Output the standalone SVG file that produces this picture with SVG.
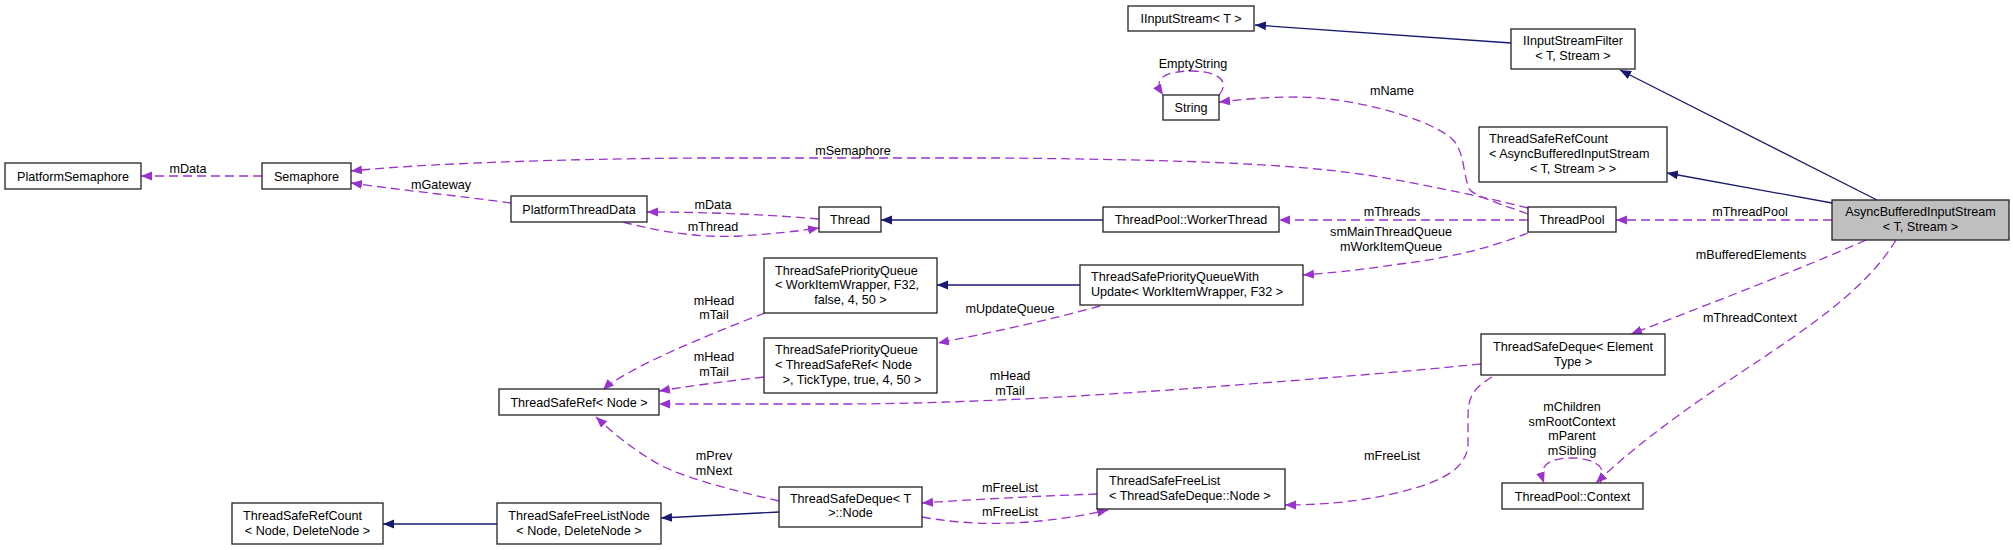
<svg xmlns="http://www.w3.org/2000/svg" width="2013" height="550" viewBox="0 0 2013 550">
<defs>
<style>
.n rect{fill:#fff;stroke:#222;stroke-width:1.3}
.n.main rect{fill:#bfbfbf}
text{font-family:"Liberation Sans",Arial,sans-serif;font-size:12.6px;fill:#000}
.c{text-anchor:middle}
.u{fill:none;stroke:#9a32cd;stroke-width:1.3;stroke-dasharray:9,5}
.i{fill:none;stroke:#191970;stroke-width:1.3}
</style>
<marker id="ap" markerUnits="userSpaceOnUse" markerWidth="12" markerHeight="10" refX="11" refY="4.5" orient="auto"><path d="M0,0 L11,4.5 L0,9 z" fill="#9a32cd"/></marker>
<marker id="ai" markerUnits="userSpaceOnUse" markerWidth="12" markerHeight="10" refX="11" refY="4.5" orient="auto"><path d="M0,0 L11,4.5 L0,9 z" fill="#191970"/></marker>
</defs>
<rect width="2013" height="550" fill="#fff"/>
<g id="connectors">
<path class="i" marker-end="url(#ai)" d="M1511,43 L1255,25"/>
<path class="i" marker-end="url(#ai)" d="M1877,200 L1620,70"/>
<path class="i" marker-end="url(#ai)" d="M1832,203 L1667,173"/>
<path class="i" marker-end="url(#ai)" d="M1103,220 L881,220"/>
<path class="i" marker-end="url(#ai)" d="M1080,285 L937,285"/>
<path class="i" marker-end="url(#ai)" d="M779,512 L661,518"/>
<path class="i" marker-end="url(#ai)" d="M497,524 L383,524"/>
<path class="u" marker-end="url(#ap)" d="M262,176 L141,176"/>
<path class="u" marker-end="url(#ap)" d="M511,203 C460,196 400,190 351,183"/>
<path class="u" marker-end="url(#ap)" d="M819,219 C760,214 700,212 647,212"/>
<path class="u" marker-end="url(#ap)" d="M623,222 C660,232 700,238 740,236 C770,234 800,231 819,228"/>
<path class="u" marker-end="url(#ap)" d="M1528,208 C1480,196 1420,184 1380,177 C1300,164 1200,160 1000,158 L700,158 C550,159 420,164 351,171"/>
<path class="u" marker-end="url(#ap)" d="M1528,214 C1500,204 1476,196 1470,190 C1462,175 1466,150 1450,137 C1420,115 1350,98 1300,97 C1260,97 1240,100 1219,102"/>
<path class="u" marker-end="url(#ap)" d="M1219,95 C1228,85 1225,72 1193,71 C1165,71 1152,78 1163,95"/>
<path class="u" marker-end="url(#ap)" d="M1528,220 L1279,220"/>
<path class="u" marker-end="url(#ap)" d="M1528,233 C1490,248 1450,258 1400,264 C1360,270 1330,273 1303,275"/>
<path class="u" marker-end="url(#ap)" d="M1832,220 L1616,220"/>
<path class="u" marker-end="url(#ap)" d="M1866,240 C1840,252 1760,285 1631,334"/>
<path class="u" marker-end="url(#ap)" d="M1896,240 C1860,300 1780,345 1700,400 C1650,435 1620,460 1596,483"/>
<path class="u" marker-end="url(#ap)" d="M1600,483 C1608,472 1600,458 1572,458 C1548,458 1538,466 1544,483"/>
<path class="u" marker-end="url(#ap)" d="M1481,364 C1440,368 1400,372 1300,380 C1150,392 1000,403 850,404 L659,404"/>
<path class="u" marker-end="url(#ap)" d="M1492,377 C1470,390 1468,400 1468,420 L1468,445 C1466,470 1440,482 1400,492 C1360,502 1320,505 1285,505"/>
<path class="u" marker-end="url(#ap)" d="M765,313 C720,330 660,355 630,372 C615,380 607,386 603,390"/>
<path class="u" marker-end="url(#ap)" d="M764,377 C720,382 690,386 659,391"/>
<path class="u" marker-end="url(#ap)" d="M1100,306 C1050,320 980,335 938,343"/>
<path class="u" marker-end="url(#ap)" d="M779,501 C740,492 690,480 660,465 C630,448 610,430 596,417"/>
<path class="u" marker-end="url(#ap)" d="M1097,494 C1040,496 980,499 922,503"/>
<path class="u" marker-end="url(#ap)" d="M922,517 C960,524 1000,525 1040,521 C1070,518 1090,514 1108,510"/>
<g class="lbl">
<text class="c" x="188" y="172.5">mData</text>
<text class="c" x="441" y="188.5">mGateway</text>
<text class="c" x="713" y="209">mData</text>
<text class="c" x="713" y="231">mThread</text>
<text class="c" x="853" y="155">mSemaphore</text>
<text class="c" x="1392" y="95">mName</text>
<text class="c" x="1193" y="67.5">EmptyString</text>
<text class="c" x="1392" y="216">mThreads</text>
<text class="c" x="1391" y="236">smMainThreadQueue</text>
<text class="c" x="1391" y="251">mWorkItemQueue</text>
<text class="c" x="1750" y="216">mThreadPool</text>
<text class="c" x="1751" y="259">mBufferedElements</text>
<text class="c" x="1750" y="322">mThreadContext</text>
<text class="c" x="1572" y="411">mChildren</text>
<text class="c" x="1572" y="425.5">smRootContext</text>
<text class="c" x="1572" y="440">mParent</text>
<text class="c" x="1572" y="455">mSibling</text>
<text class="c" x="1010" y="380">mHead</text>
<text class="c" x="1010" y="394.5">mTail</text>
<text class="c" x="1392" y="460">mFreeList</text>
<text class="c" x="714" y="304.5">mHead</text>
<text class="c" x="714" y="319">mTail</text>
<text class="c" x="714" y="361">mHead</text>
<text class="c" x="714" y="375.5">mTail</text>
<text class="c" x="1010" y="313">mUpdateQueue</text>
<text class="c" x="714" y="460">mPrev</text>
<text class="c" x="714" y="474.5">mNext</text>
<text class="c" x="1010" y="492">mFreeList</text>
<text class="c" x="1010" y="516">mFreeList</text>
</g>
</g>
<g id="IInputStream" class="n"><rect x="1128" y="6" width="126" height="25"/><text class="c" x="1191" y="23">IInputStream&lt; T &gt;</text></g>
<g id="IInputStreamFilter" class="n"><rect x="1511" y="29" width="124" height="40"/><text class="c" x="1573" y="45">IInputStreamFilter</text><text class="c" x="1573" y="60">&lt; T, Stream &gt;</text></g>
<g id="String" class="n"><rect x="1163" y="95" width="56" height="25"/><text class="c" x="1191" y="112">String</text></g>
<g id="ThreadSafeRefCountAsync" class="n"><rect x="1479" y="127" width="188" height="55"/><text x="1489" y="143">ThreadSafeRefCount</text><text x="1489" y="158">&lt; AsyncBufferedInputStream</text><text class="c" x="1573" y="173">&lt; T, Stream &gt; &gt;</text></g>
<g id="PlatformSemaphore" class="n"><rect x="5" y="163" width="136" height="26"/><text class="c" x="73" y="180.5">PlatformSemaphore</text></g>
<g id="Semaphore" class="n"><rect x="262" y="163" width="89" height="26"/><text class="c" x="306.5" y="180.5">Semaphore</text></g>
<g id="PlatformThreadData" class="n"><rect x="511" y="196" width="136" height="26"/><text class="c" x="579" y="213.5">PlatformThreadData</text></g>
<g id="Thread" class="n"><rect x="819" y="207" width="62" height="25"/><text class="c" x="850" y="224">Thread</text></g>
<g id="WorkerThread" class="n"><rect x="1103" y="207" width="176" height="25"/><text class="c" x="1191" y="224">ThreadPool::WorkerThread</text></g>
<g id="ThreadPool" class="n"><rect x="1528" y="207" width="88" height="25"/><text class="c" x="1572" y="224">ThreadPool</text></g>
<g id="AsyncBufferedInputStream" class="n main"><rect x="1832" y="200" width="177" height="40"/><text class="c" x="1920.5" y="216">AsyncBufferedInputStream</text><text class="c" x="1920.5" y="231">&lt; T, Stream &gt;</text></g>
<g id="TSPQWorkItem" class="n"><rect x="764" y="258" width="173" height="55"/><text x="775" y="274.5">ThreadSafePriorityQueue</text><text x="775" y="289">&lt; WorkItemWrapper, F32,</text><text class="c" x="850.5" y="303.5">false, 4, 50 &gt;</text></g>
<g id="TSPQWithUpdate" class="n"><rect x="1080" y="265" width="223" height="40"/><text x="1091" y="280.5">ThreadSafePriorityQueueWith</text><text x="1091" y="296">Update&lt; WorkItemWrapper, F32 &gt;</text></g>
<g id="TSPQRef" class="n"><rect x="764" y="338" width="173" height="55"/><text x="775" y="354">ThreadSafePriorityQueue</text><text x="775" y="369">&lt; ThreadSafeRef&lt; Node</text><text class="c" x="852" y="383.5"> &gt;, TickType, true, 4, 50 &gt;</text></g>
<g id="TSDequeElement" class="n"><rect x="1481" y="334" width="184" height="41"/><text class="c" x="1573" y="351">ThreadSafeDeque&lt; Element</text><text class="c" x="1573" y="365.5">Type &gt;</text></g>
<g id="ThreadSafeRefNode" class="n"><rect x="499" y="389" width="160" height="26"/><text class="c" x="579" y="406.5">ThreadSafeRef&lt; Node &gt;</text></g>
<g id="Context" class="n"><rect x="1502" y="483" width="141" height="26"/><text class="c" x="1572.5" y="500.5">ThreadPool::Context</text></g>
<g id="TSFreeList" class="n"><rect x="1097" y="469" width="188" height="40"/><text x="1109" y="484.5">ThreadSafeFreeList</text><text x="1109" y="500">&lt; ThreadSafeDeque::Node &gt;</text></g>
<g id="TSDequeNode" class="n"><rect x="779" y="487" width="143" height="40"/><text class="c" x="850.5" y="503">ThreadSafeDeque&lt; T</text><text class="c" x="850.5" y="517">&gt;::Node</text></g>
<g id="TSRefCountNode" class="n"><rect x="232" y="503" width="151" height="41"/><text x="243" y="520">ThreadSafeRefCount</text><text class="c" x="307.5" y="534.5">&lt; Node, DeleteNode &gt;</text></g>
<g id="TSFreeListNode" class="n"><rect x="497" y="503" width="164" height="41"/><text class="c" x="579" y="520">ThreadSafeFreeListNode</text><text class="c" x="579" y="534.5">&lt; Node, DeleteNode &gt;</text></g>
</svg>
